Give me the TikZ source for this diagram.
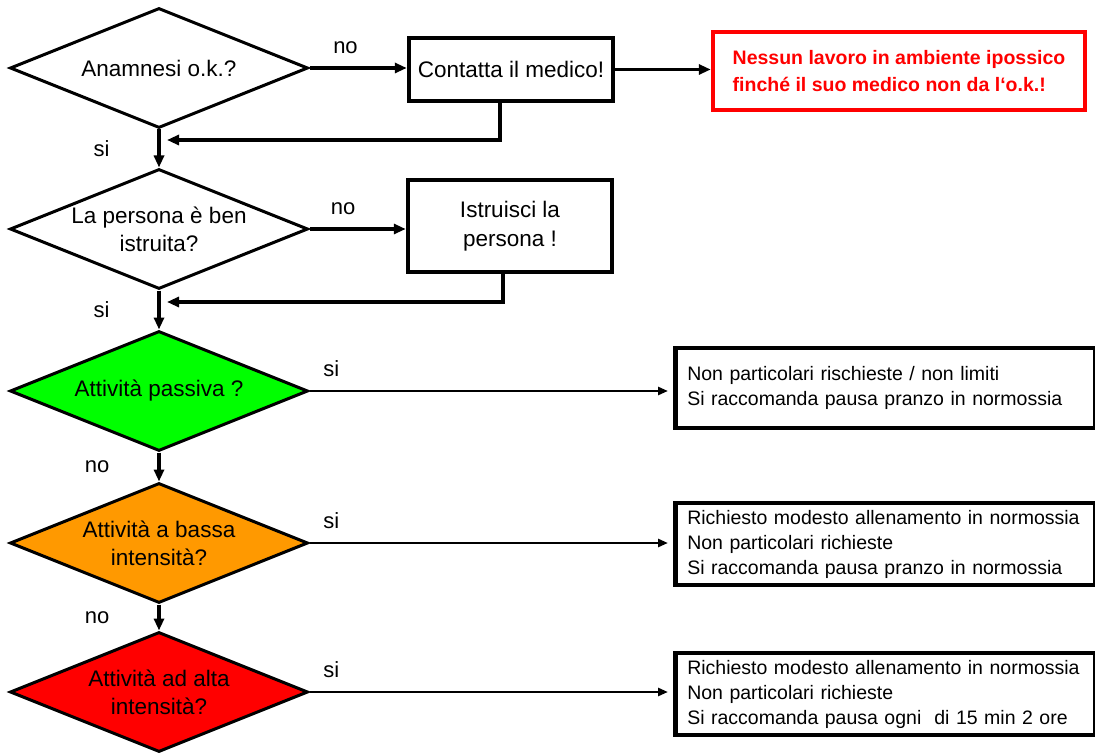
\documentclass[tikz,border=0pt]{standalone}
\usepackage{fontspec}
\setmainfont{Liberation Sans}
\usetikzlibrary{positioning, arrows.meta, shapes.geometric}
\definecolor{okgreen}{HTML}{00FF00}
\definecolor{lowamber}{HTML}{FF9900}
\definecolor{highred}{HTML}{FF0000}

\begin{document}
\begin{tikzpicture}[x=1pt, y=-1pt,
  decision/.style={draw, diamond, line width=3pt, aspect=2.5, minimum width=298pt, minimum height=120pt, inner sep=0pt, align=center, font=\fontsize{22.5}{28}\selectfont},
  action/.style={draw, line width=4.5pt, minimum width=204pt, align=center, font=\fontsize{22.5}{29}\selectfont},
  warn/.style={draw=highred, line width=4.5pt, minimum width=372pt, minimum height=78pt, align=left, text=highred, font=\bfseries\fontsize{19.5}{27}\selectfont},
  note/.style={draw, line width=4.5pt, anchor=west, text width=396pt, inner xsep=12pt, minimum height=80pt, align=left, font=\fontsize{19.5}{25}\selectfont},
  arrow/.style={-{Triangle[length=12pt, width=10pt]}, line width=3.2pt},
  thinarrow/.style={-{Triangle[length=10pt, width=8pt]}, line width=2.5pt, shorten >=5pt},
  lbl/.style={inner sep=0pt, font=\fontsize{22}{26}\selectfont}
]
  \useasboundingbox (0,0) rectangle (1095,754);

  % decisions
  \node[decision] (anam) at (159,68) {Anamnesi o.k.?};
  \node[decision] (istr) at (159,229) {La persona è ben\\istruita?};
  \node[decision, fill=okgreen] (pass) at (159,391) {Attività passiva ?};
  \node[decision, fill=lowamber] (bassa) at (159,543) {Attività a bassa\\intensità?};
  \node[decision, fill=highred] (alta) at (159,692) {Attività ad alta\\intensità?};

  % actions
  \node[action, minimum height=63pt] (medico) at (511,69.5) {Contatta il medico!};
  \node[action, minimum height=92pt] (istruisci) at (510,226) {Istruisci la\\persona !};
  \node[warn] (nolav) at (899,71) {Nessun lavoro in ambiente ipossico\\finché il suo medico non da l‘o.k.!};

  % outcomes
  \node[note] (npass) at (673,388) {Non particolari rischieste / non limiti\\Si raccomanda pausa pranzo in normossia};
  \node[note, minimum height=82pt] (nbassa) at (673,544) {Richiesto modesto allenamento in normossia\\Non particolari richieste\\Si raccomanda pausa pranzo in normossia};
  \node[note, minimum height=82pt] (nalta) at (673,694) {Richiesto modesto allenamento in normossia\\Non particolari richieste\\Si raccomanda pausa ogni\ \ di 15 min 2 ore};

  \coordinate (back1) at (167,140);
  \coordinate (back2) at (167,302);

  \draw[arrow] (anam.east) -- (anam.east -| medico.west) node[lbl, pos=0.37, above=13pt] {no};
  \draw[arrow] (medico.east) -- (medico.east -| nolav.west);
  \draw[arrow] ([xshift=-11pt]medico.south) |- (back1);
  \draw[arrow] (anam.south) -- (istr.north) node[lbl, midway, left=48pt] {si};

  \draw[arrow] (istr.east) -- (istr.east -| istruisci.west) node[lbl, pos=0.35, above=13pt] {no};
  \draw[arrow] ([xshift=-7pt]istruisci.south) |- (back2);
  \draw[arrow] (istr.south) -- (pass.north) node[lbl, midway, left=48pt] {si};

  \draw[thinarrow] (pass.east) -- (pass.east -| npass.west) node[lbl, pos=0.06, above=13pt] {si};
  \draw[arrow] (pass.south) -- (bassa.north) node[lbl, midway, left=48pt] {no};

  \draw[thinarrow] (bassa.east) -- (bassa.east -| nbassa.west) node[lbl, pos=0.06, above=13pt] {si};
  \draw[arrow] (bassa.south) -- (alta.north) node[lbl, midway, left=48pt] {no};

  \draw[thinarrow] (alta.east) -- (alta.east -| nalta.west) node[lbl, pos=0.06, above=13pt] {si};
\end{tikzpicture}
\end{document}
